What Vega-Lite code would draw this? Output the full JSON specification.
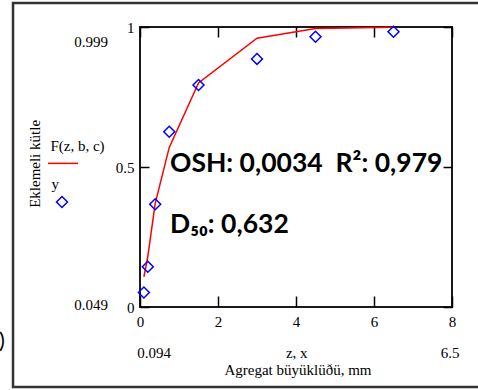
{
  "$schema": "https://vega.github.io/schema/vega-lite/v6.json",
  "width": 312,
  "height": 280,
  "autosize": "none",
  "padding": {"left": 140, "top": 27, "right": 26, "bottom": 83},
  "background": "white",
  "config": {
    "view": {"stroke": "#1a1a1a", "strokeWidth": 2},
    "axis": {"grid": false, "domain": false, "title": null, "tickColor": "black", "tickWidth": 1.5, "labelColor": "black", "labelFont": "Liberation Serif", "labelFontSize": 15}
  },
  "datasets": {
    "fit": [
      {"x": 0.1, "F": 0.108},
      {"x": 0.2, "F": 0.18},
      {"x": 0.39, "F": 0.37},
      {"x": 0.75, "F": 0.57},
      {"x": 1.5, "F": 0.8},
      {"x": 3.0, "F": 0.96},
      {"x": 4.5, "F": 0.995},
      {"x": 6.5, "F": 0.999}
    ],
    "obs": [
      {"x": 0.1, "y": 0.052},
      {"x": 0.2, "y": 0.144},
      {"x": 0.39, "y": 0.367},
      {"x": 0.75, "y": 0.626},
      {"x": 1.5, "y": 0.793},
      {"x": 3.0, "y": 0.886},
      {"x": 4.5, "y": 0.965},
      {"x": 6.5, "y": 0.983}
    ],
    "labels": [
      {"t": "0.999", "x": -1.256, "y": 0.946},
      {"t": "0.049", "x": -1.256, "y": 0.007},
      {"t": "F(z, b, c)", "x": -1.603, "y": 0.575},
      {"t": "y", "x": -2.17, "y": 0.439},
      {"t": "0.094", "x": 0.36, "y": -0.164},
      {"t": "z, x", "x": 4.02, "y": -0.164},
      {"t": "6.5", "x": 7.95, "y": -0.164},
      {"t": "Agregat büyüklüðü, mm", "x": 4.05, "y": -0.225}
    ],
    "ytitle": [{"t": "Eklemeli kütle", "x": -2.692, "y": 0.511}],
    "notes": [
      {"t": "OSH: 0,0034\u00a0\u00a0R²: 0,979", "x": 0.769, "y": 0.482},
      {"t": "D₅₀: 0,632", "x": 0.769, "y": 0.264}
    ],
    "paren": [{"t": ")", "x": -3.462, "y": -0.121}],
    "legline": [{"x": -2.36, "x2": -1.59, "y": 0.513}],
    "legpt": [{"x": -2.0, "y": 0.375}],
    "frame": [{"x": -3.256, "x2": 9.5, "y": 1.0857, "y2": -0.2857}]
  },
  "resolve": {"axis": {"x": "independent", "y": "independent"}},
  "layer": [
    {
      "data": {"name": "fit"},
      "mark": {"type": "line", "color": "#ff0000", "strokeWidth": 1.5},
      "encoding": {
        "x": {"field": "x", "type": "quantitative", "scale": {"domain": [0, 8], "nice": false, "zero": false},
              "axis": {"orient": "bottom", "values": [0, 2, 4, 6, 8], "tickSize": -11, "labelPadding": 18, "format": "~g", "labelFlush": false, "labelOverlap": false}},
        "y": {"field": "F", "type": "quantitative", "scale": {"domain": [0, 1], "nice": false, "zero": false},
              "axis": {"orient": "left", "values": [0, 0.5, 1], "tickSize": -9, "labelPadding": 15, "format": "~g", "labelFlush": false, "labelOverlap": false}}
      }
    },
    {
      "data": {"name": "obs"},
      "mark": {"type": "point", "shape": "diamond", "filled": false, "stroke": "#0000ff", "strokeWidth": 1.5, "size": 120, "opacity": 1},
      "encoding": {
        "x": {"field": "x", "type": "quantitative", "scale": {"domain": [0, 8], "nice": false, "zero": false},
              "axis": {"orient": "top", "values": [0, 2, 4, 6, 8], "tickSize": -10, "labels": false}},
        "y": {"field": "y", "type": "quantitative", "scale": {"domain": [0, 1], "nice": false, "zero": false},
              "axis": {"orient": "right", "values": [0, 0.5, 1], "tickSize": -9, "labels": false}}
      }
    },
    {
      "data": {"name": "frame"},
      "mark": {"type": "rect", "fill": null, "stroke": "#333333", "strokeWidth": 2.5, "clip": false},
      "encoding": {
        "x": {"field": "x", "type": "quantitative", "scale": {"domain": [0, 8], "nice": false, "zero": false}, "axis": null},
        "x2": {"field": "x2"},
        "y": {"field": "y", "type": "quantitative", "scale": {"domain": [0, 1], "nice": false, "zero": false}, "axis": null},
        "y2": {"field": "y2"}
      }
    },
    {
      "data": {"name": "labels"},
      "mark": {"type": "text", "font": "Liberation Serif", "fontSize": 15, "color": "black", "align": "center", "baseline": "middle"},
      "encoding": {
        "x": {"field": "x", "type": "quantitative", "scale": {"domain": [0, 8], "nice": false, "zero": false}, "axis": null},
        "y": {"field": "y", "type": "quantitative", "scale": {"domain": [0, 1], "nice": false, "zero": false}, "axis": null},
        "text": {"field": "t"}
      }
    },
    {
      "data": {"name": "ytitle"},
      "mark": {"type": "text", "font": "Liberation Serif", "fontSize": 15, "color": "black", "align": "center", "baseline": "middle", "angle": 270},
      "encoding": {
        "x": {"field": "x", "type": "quantitative", "scale": {"domain": [0, 8], "nice": false, "zero": false}, "axis": null},
        "y": {"field": "y", "type": "quantitative", "scale": {"domain": [0, 1], "nice": false, "zero": false}, "axis": null},
        "text": {"field": "t"}
      }
    },
    {
      "data": {"name": "notes"},
      "mark": {"type": "text", "font": "Lato", "fontWeight": "bold", "fontSize": 26.5, "color": "black", "align": "left", "baseline": "alphabetic"},
      "encoding": {
        "x": {"field": "x", "type": "quantitative", "scale": {"domain": [0, 8], "nice": false, "zero": false}, "axis": null},
        "y": {"field": "y", "type": "quantitative", "scale": {"domain": [0, 1], "nice": false, "zero": false}, "axis": null},
        "text": {"field": "t"}
      }
    },
    {
      "data": {"name": "paren"},
      "mark": {"type": "text", "font": "Lato", "fontSize": 22, "color": "black", "align": "right", "baseline": "middle"},
      "encoding": {
        "x": {"field": "x", "type": "quantitative", "scale": {"domain": [0, 8], "nice": false, "zero": false}, "axis": null},
        "y": {"field": "y", "type": "quantitative", "scale": {"domain": [0, 1], "nice": false, "zero": false}, "axis": null},
        "text": {"field": "t"}
      }
    },
    {
      "data": {"name": "legline"},
      "mark": {"type": "rule", "color": "#ff0000", "strokeWidth": 1.5},
      "encoding": {
        "x": {"field": "x", "type": "quantitative", "scale": {"domain": [0, 8], "nice": false, "zero": false}, "axis": null},
        "x2": {"field": "x2"},
        "y": {"field": "y", "type": "quantitative", "scale": {"domain": [0, 1], "nice": false, "zero": false}, "axis": null}
      }
    },
    {
      "data": {"name": "legpt"},
      "mark": {"type": "point", "shape": "diamond", "filled": false, "stroke": "#0000ff", "strokeWidth": 1.5, "size": 120, "opacity": 1},
      "encoding": {
        "x": {"field": "x", "type": "quantitative", "scale": {"domain": [0, 8], "nice": false, "zero": false}, "axis": null},
        "y": {"field": "y", "type": "quantitative", "scale": {"domain": [0, 1], "nice": false, "zero": false}, "axis": null}
      }
    }
  ]
}
